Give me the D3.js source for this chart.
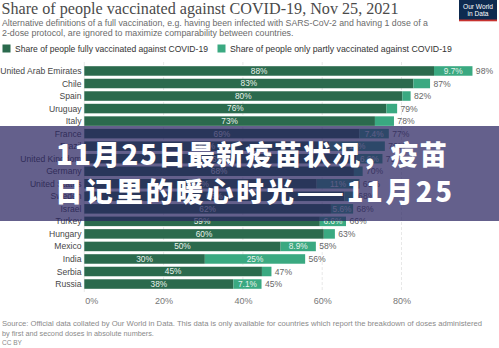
<!DOCTYPE html>
<html><head><meta charset="utf-8">
<script src="https://cdn.jsdelivr.net/npm/d3@7"></script>
<style>html,body{margin:0;padding:0;background:#fff;overflow:hidden}svg{display:block}</style>
</head><body><svg id="c" width="499" height="348"></svg>
<script>
const countries = ["United Arab Emirates","Chile","Spain","Uruguay","Italy","France","Brazil","United Kingdom","Germany","United States","Sweden","Israel","Turkey","Hungary","Mexico","India","Serbia","Russia"];
const fullyVaccinated = [88.2,83.0,80.2,76.2,73.3,69.4,61.8,68.6,68.0,58.6,65.6,62.2,59.4,60.4,49.5,30.4,44.8,37.6];
const partlyVaccinated = [9.7,4.2,2.1,2.7,4.8,7.4,14.0,6.6,2.2,10.8,2.6,5.6,6.6,2.8,8.9,25.3,2.4,7.1];
const tickValues = [0,20,40,60,80];
const seriesNames = ["Share of people fully vaccinated against COVID-19","Share of people only partly vaccinated against COVID-19"];
const titleText = "Share of people vaccinated against COVID-19, Nov 25, 2021";
const subtitleLines = ["Alternative definitions of a full vaccination, e.g. having been infected with SARS-CoV-2 and having 1 dose of a","2-dose protocol, are ignored to maximize comparability between countries."];
const sourceLines = ["Source: Official data collated by Our World in Data. This data is only available for countries which report the breakdown of doses administered","by first and second doses in absolute numbers.","CC BY"];
const overlayLines = ["11月25日最新疫苗状况，疫苗","日记里的暖心时光——11月25"];

const colors = ["#2b6a4d","#3aa981"];
const sans = "'Liberation Sans', Arial, Helvetica, sans-serif";
const svg = d3.select("#c");

function fit(t, w){
  const cur = t.node().getComputedTextLength();
  const fs = parseFloat(t.attr("font-size"));
  t.attr("font-size", fs * w / cur);
  return t;
}

// Title
svg.append("text").attr("x",1.5).attr("y",14)
  .attr("font-family","'Liberation Serif','DejaVu Serif',Georgia,serif")
  .attr("font-size",17).attr("fill","#4a4a4a")
  .attr("textLength",397).attr("lengthAdjust","spacingAndGlyphs")
  .text(titleText);

// Subtitle
const subW = [425, 291];
subtitleLines.forEach((s,i)=>{
  const t = svg.append("text").attr("x",2).attr("y",26+i*9.5)
    .attr("font-family",sans).attr("font-size",8.4).attr("fill","#6b6b6b").text(s);
  fit(t, subW[i]);
});

// Logo
const logo = svg.append("g");
logo.append("rect").attr("x",459).attr("y",0).attr("width",38).attr("height",21).attr("fill","#0d2a4f");
logo.append("rect").attr("x",459).attr("y",19.5).attr("width",38).attr("height",1.8).attr("fill","#c8322f");
logo.append("text").attr("x",478).attr("y",8.5).attr("text-anchor","middle").attr("font-family",sans).attr("font-size",6.6).attr("fill","#fff").text("Our World");
logo.append("text").attr("x",478).attr("y",16).attr("text-anchor","middle").attr("font-family",sans).attr("font-size",6.6).attr("fill","#fff").text("in Data");

// Legend
const legX = [2.5, 217.5], legTW = [193, 222];
seriesNames.forEach((n,i)=>{
  svg.append("rect").attr("x",legX[i]).attr("y",44.5).attr("width",8).attr("height",8).attr("fill",colors[i]);
  const t = svg.append("text").attr("x",legX[i]+12.5).attr("y",52).attr("font-family",sans)
    .attr("font-size",8.6).attr("fill","#333").text(n);
  fit(t, legTW[i]);
});

// Scales
const x = d3.scaleLinear().domain([0,100]).range([84.3,480.8]);
const y = d3.scaleBand().domain(countries).range([64.7,290.3]).paddingInner(0.24).paddingOuter(0.12);

// Grid
svg.append("g").selectAll("line").data(tickValues).join("line")
  .attr("x1",d=>x(d)).attr("x2",d=>x(d)).attr("y1",62).attr("y2",292)
  .attr("stroke","#e2e2e2").attr("stroke-width",0.8).attr("stroke-dasharray",d=>d===0?null:"3,2");

// Axis labels
const xAxis = d3.axisBottom(x).tickValues(tickValues).tickSize(0).tickFormat(d=>d+"%");
const ax = svg.append("g").attr("transform","translate(0,292)").call(xAxis);
ax.select(".domain").remove();
ax.selectAll("text").attr("font-family",sans).attr("font-size",9).attr("fill","#777").attr("dy","0.71em").attr("y",6);
ax.selectAll(".tick").filter(d=>d===0).select("text").attr("text-anchor","start").attr("x",0.5);

// Country labels
svg.append("g").selectAll("text").data(countries).join("text")
  .attr("x",81.5).attr("y",d=>y(d)+y.bandwidth()/2).attr("dy","0.35em")
  .attr("text-anchor","end").attr("font-family",sans).attr("font-size",8.6).attr("fill","#474747")
  .text(d=>d);

const rows = countries.map((c,i)=>({c, f:fullyVaccinated[i], p:partlyVaccinated[i]}));
const fmt = d3.format(".2r");
const bars = svg.append("g").selectAll("g").data(rows).join("g");
bars.append("rect").attr("x",x(0)).attr("y",d=>y(d.c)).attr("height",y.bandwidth())
  .attr("width",d=>x(d.f)-x(0)).attr("fill",colors[0]);
bars.append("rect").attr("x",d=>x(d.f)).attr("y",d=>y(d.c)).attr("height",y.bandwidth())
  .attr("width",d=>x(d.f+d.p)-x(d.f)).attr("fill",colors[1]);
bars.append("text").attr("x",d=>(x(0)+x(d.f))/2).attr("y",d=>y(d.c)+y.bandwidth()/2).attr("dy","0.35em")
  .attr("text-anchor","middle").attr("font-family",sans).attr("font-size",8.3).attr("fill","#e8f2ec")
  .text(d=>fmt(d.f)+"%");
bars.filter(d=>d.p>=5).append("text").attr("x",d=>(x(d.f)+x(d.f+d.p))/2).attr("y",d=>y(d.c)+y.bandwidth()/2).attr("dy","0.35em")
  .attr("text-anchor","middle").attr("font-family",sans).attr("font-size",8.3).attr("fill","#e8f2ec")
  .text(d=>fmt(d.p)+"%");
bars.append("text").attr("x",d=>x(d.f+d.p)+3.4).attr("y",d=>y(d.c)+y.bandwidth()/2).attr("dy","0.35em")
  .attr("font-family",sans).attr("font-size",8.6).attr("fill","#666")
  .text(d=>fmt(d.f+d.p)+"%");

// Source
const srcW = [481, 152, 20];
sourceLines.forEach((s,i)=>{
  const t = svg.append("text").attr("x",2).attr("y",326+i*9.6).attr("font-family",sans)
    .attr("font-size",7.6).attr("fill","#8a8a8a").text(s);
  fit(t, srcW[i]);
});

// Overlay band
svg.append("rect").attr("x",0).attr("y",126).attr("width",499).attr("height",95)
  .attr("fill","rgb(40,35,95)").attr("fill-opacity",0.72);
const ovX = [56,55], ovY = [165,202], ovW = [391,397];
overlayLines.forEach((s,i)=>{
  svg.append("text").attr("x",ovX[i]).attr("y",ovY[i])
    .attr("font-family","'Noto Sans CJK SC','Noto Sans CJK JP',sans-serif").attr("font-weight",900)
    .attr("font-size",27.5).attr("fill","#ffffff")
    .attr("textLength",ovW[i]).attr("lengthAdjust","spacing")
    .text(s);
});
</script></body></html>
